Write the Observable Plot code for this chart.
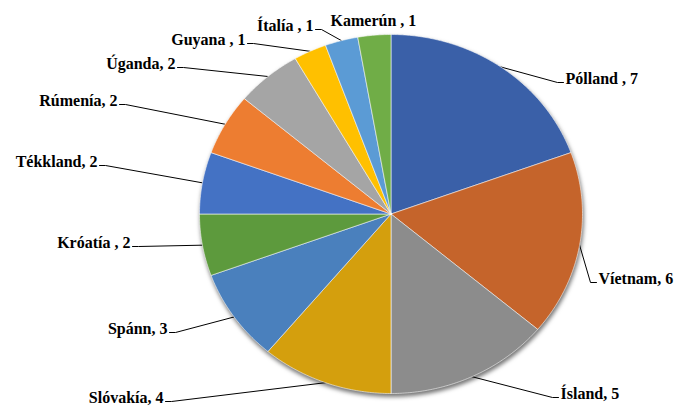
<!DOCTYPE html>
<html>
<head>
<meta charset="utf-8">
<script src="https://cdn.jsdelivr.net/npm/d3@7"></script>
<script src="https://cdn.jsdelivr.net/npm/@observablehq/plot@0.6"></script>
<style>
  body { margin: 0; background: #ffffff; }
  #chart { width: 674px; height: 406px; }
  #chart svg text { font-family: "Liberation Serif", "Times New Roman", Tinos, "DejaVu Serif", serif !important; }
</style>
</head>
<body>
<div id="chart"></div>
<script>
// ---- data ----
const countries = ["Pólland", "Víetnam", "Ísland", "Slóvakía", "Spánn", "Króatía", "Tékkland", "Rúmenía", "Úganda", "Guyana", "Ítalía", "Kamerún"];
const counts = [7, 6, 5, 4, 3, 2, 2, 2, 2, 1, 1, 1];
const labelTexts = ["Pólland , 7", "Víetnam, 6", "Ísland, 5", "Slóvakía, 4", "Spánn, 3", "Króatía , 2", "Tékkland, 2", "Rúmenía, 2", "Úganda, 2", "Guyana , 1", "Ítalía , 1", "Kamerún , 1"];

// ---- styles / layout ----
const colors = ["#3a60a8", "#c5642b", "#8c8c8c", "#d49f0d", "#4a80bd", "#5d9a3d", "#4472c4", "#ed7d31", "#a5a5a5", "#ffc000", "#5b9bd5", "#70ad47"];
// label anchor in pixels: [x, y(center), side, hasLeader]
const labelLayout = [
  [565, 78, "right", true],
  [598, 278, "right", true],
  [560, 393, "right", true],
  [163, 397, "left", true],
  [167, 328, "left", true],
  [130, 242, "left", true],
  [97, 161, "left", true],
  [117, 100, "left", true],
  [175, 63, "left", true],
  [245, 39, "left", true],
  [313, 25, "left", true],
  [330, 20, "right", false]
];

const W = 674, H = 406;
const mL = 199, mR = 92, mT = 34, mB = 13;
const cx = (mL + (W - mR)) / 2, cy = (mT + (H - mB)) / 2;
const rx = ((W - mR) - mL) / 2, ry = ((H - mB) - mT) / 2;
const px2x = px => (px - cx) / rx;
const py2y = py => (cy - py) / ry;

// ---- geometry from data ----
const total = d3.sum(counts);
const slices = [];
const leaders = [];
const labels = [];
let acc = 0;
countries.forEach((c, i) => {
  const a0 = acc / total * 2 * Math.PI;
  acc += counts[i];
  const a1 = acc / total * 2 * Math.PI;
  slices.push({k: c, x: 0, y: 0, color: colors[i]});
  const n = Math.max(4, Math.ceil((a1 - a0) / (Math.PI / 360)));
  for (let j = 0; j <= n; j++) {
    const t = a0 + (a1 - a0) * j / n;
    slices.push({k: c, x: Math.sin(t), y: Math.cos(t), color: colors[i]});
  }
  slices.push({k: c, x: 0, y: 0, color: colors[i]});

  const [lx, ly, side, hasLeader] = labelLayout[i];
  labels.push({text: labelTexts[i], x: px2x(lx), y: py2y(ly), side});
  if (hasLeader) {
    const am = (a0 + a1) / 2;
    const s = side === "left" ? 1 : -1;
    leaders.push({k: c, x: px2x(lx + s * 2), y: py2y(ly + 4)});
    leaders.push({k: c, x: px2x(lx + s * 8), y: py2y(ly + 4)});
    leaders.push({k: c, x: Math.sin(am), y: Math.cos(am)});
  }
});

const textOpts = {
  x: "x", y: "y", text: "text",
  fontFamily: "Liberation Serif, DejaVu Serif, serif",
  fontWeight: "bold", fontSize: 16, fill: "#000", lineAnchor: "middle"
};

const svg = Plot.plot({
  width: W, height: H,
  marginLeft: mL, marginRight: mR, marginTop: mT, marginBottom: mB,
  x: {domain: [-1, 1], axis: null},
  y: {domain: [-1, 1], axis: null},
  color: {type: "identity"},
  style: {background: "#ffffff", overflow: "visible", fontFamily: "Liberation Serif, DejaVu Serif, serif"},
  marks: [
    Plot.line(leaders, {x: "x", y: "y", z: "k", stroke: "#000", strokeWidth: 1}),
    Plot.line(slices, {x: "x", y: "y", z: "k", fill: "color", stroke: "#ffffff", strokeWidth: 0.7, strokeOpacity: 0.8}),
    Plot.text(labels.filter(d => d.side === "left"), {...textOpts, textAnchor: "end"}),
    Plot.text(labels.filter(d => d.side === "right"), {...textOpts, textAnchor: "start"})
  ]
});
const groups = svg.querySelectorAll('g[aria-label="line"]');
if (groups[1]) groups[1].style.filter = "drop-shadow(1px 3px 2px rgba(0,0,0,0.55))";
svg.querySelectorAll("text").forEach(t => t.style.fontFamily = '"Liberation Serif", "DejaVu Serif", serif');
document.getElementById("chart").appendChild(svg);
</script>
</body>
</html>
